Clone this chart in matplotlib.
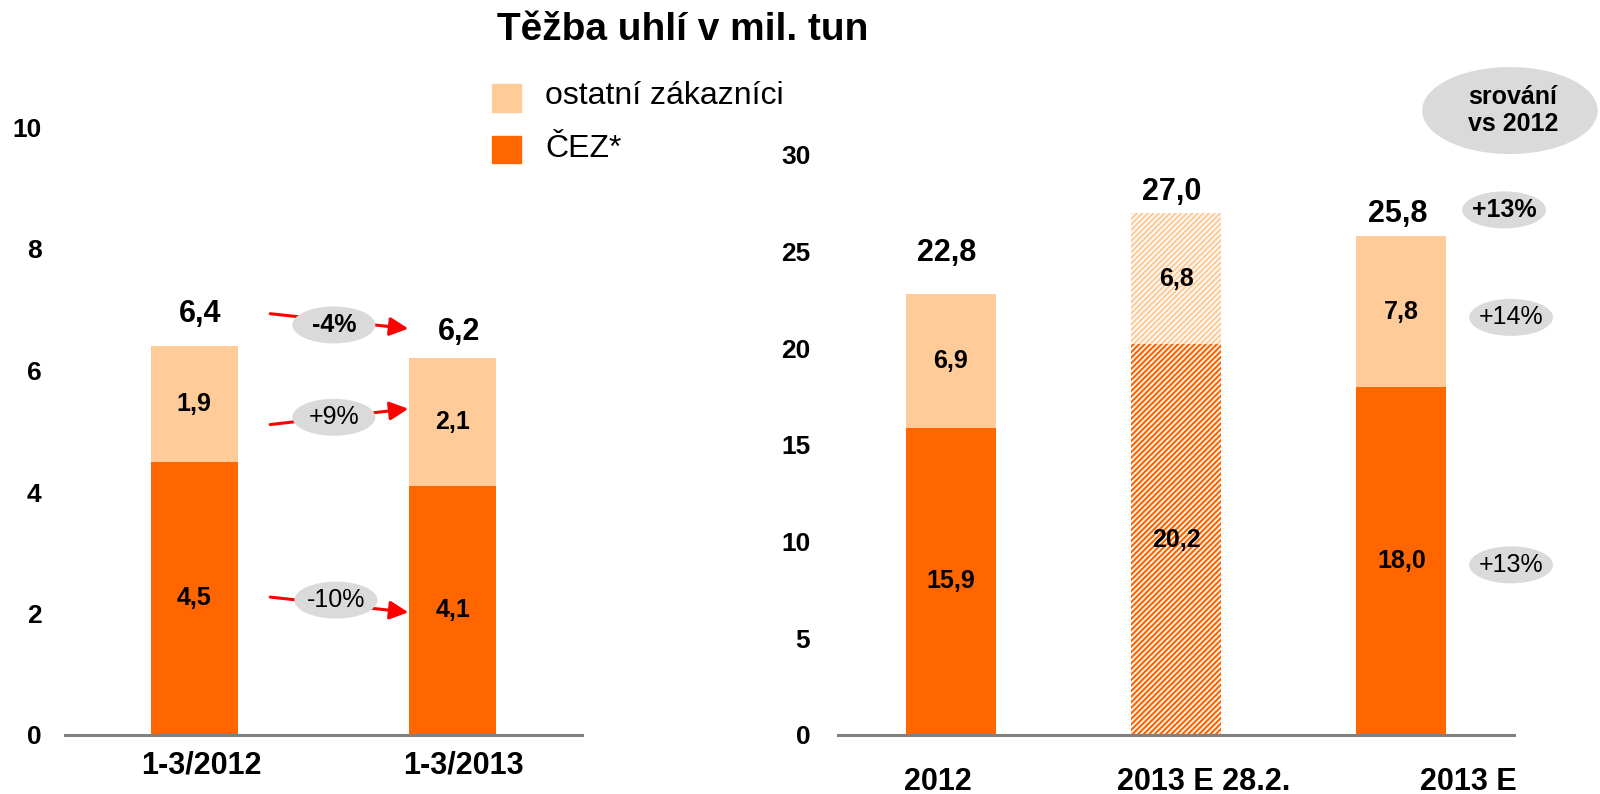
import numpy as np
import matplotlib.pyplot as plt
from matplotlib.patches import Ellipse, Rectangle

plt.rcParams['font.family'] = ['Liberation Sans', 'DejaVu Sans']
plt.rcParams['hatch.linewidth'] = 1.6

ORANGE = '#FF6600'
PEACH = '#FFCC99'
GREY = '#DADADA'

# first quarter comparison (left panel)
q_labels = ['1-3/2012', '1-3/2013']
q_cez = [4.5, 4.1]
q_other = [1.9, 2.1]
q_total = [6.4, 6.2]
q_change = ['-10%', '+9%', '-4%']   # cez, other, total

# full year (right panel)
y_labels = ['2012', '2013 E 28.2.', '2013 E']
y_cez = [15.9, 20.2, 18.0]
y_other = [6.9, 6.8, 7.8]
y_total = [22.8, 27.0, 25.8]
y_estimate = [False, True, False]
y_change = ['+13%', '+14%', '+13%']  # cez, other, total


def fmt(v):
    return f"{v:.1f}".replace('.', ',')


fig = plt.figure(figsize=(16, 7.94), dpi=100)
ax1 = fig.add_axes([65 / 1600, 59 / 794, 517 / 1600, 607.5 / 794])
ax2 = fig.add_axes([838 / 1600, 59 / 794, 676 / 1600, 580 / 794])

for ax in (ax1, ax2):
    for s in ['top', 'right', 'left']:
        ax.spines[s].set_visible(False)
    ax.spines['bottom'].set_color('#808080')
    ax.spines['bottom'].set_linewidth(2.2)
    ax.set_xticks([])

# ---- left panel ----
x1 = np.arange(len(q_labels))
ax1.bar(x1, q_cez, width=0.336, color=ORANGE, linewidth=0)
ax1.bar(x1, q_other, width=0.336, bottom=q_cez, color=PEACH, linewidth=0)
ax1.set_xlim(-0.5, 1.5)
ax1.set_ylim(0, 10)
ax1.set_yticks(range(0, 11, 2))
ax1.tick_params(axis='y', length=0, pad=17)
for lab in ax1.get_yticklabels():
    lab.set_fontweight('bold')
    lab.set_fontsize(19)

for i in x1:
    ax1.text(i, q_cez[i] / 2, fmt(q_cez[i]), ha='center', va='center', fontsize=18, fontweight='bold')
    ax1.text(i, q_cez[i] + q_other[i] / 2, fmt(q_other[i]), ha='center', va='center', fontsize=18, fontweight='bold')

tot_off1 = [32, 26]
for i in x1:
    ax1.annotate(fmt(q_total[i]), (i, q_total[i]), xytext=(6, tot_off1[i]), textcoords='offset pixels',
                 ha='center', va='center', fontsize=22, fontweight='bold')

shift1 = [0.027, 0.04]
for i in x1:
    ax1.annotate(q_labels[i], (i + shift1[i], 0), xytext=(0, -16), textcoords='offset pixels',
                 ha='center', va='top', fontsize=22, fontweight='bold')

# change bubbles with arrows
arrows1 = [((0.294, 2.27), (0.828, 2.02), (0.548, 2.22)),
           ((0.294, 5.11), (0.828, 5.37), (0.54, 5.23)),
           ((0.294, 6.935), (0.828, 6.69), (0.54, 6.75))]
for k, (start, end, centre) in enumerate(arrows1):
    ax1.annotate('', xy=end, xytext=start,
                 arrowprops=dict(arrowstyle='-|>', color='#FF0000', lw=2.2, mutation_scale=28,
                                 shrinkA=0, shrinkB=0), zorder=3)
    ax1.add_patch(Ellipse(centre, 83 / 258.5, 37 / 60.85, facecolor=GREY, edgecolor='none',
                          zorder=4, clip_on=False))
    ax1.text(centre[0], centre[1], q_change[k], ha='center', va='center', fontsize=18,
             fontweight='bold' if k == 2 else 'normal', zorder=5)

# ---- right panel ----
x2 = np.arange(len(y_labels))
for i in x2:
    if y_estimate[i]:
        ax2.bar(i, y_cez[i], width=0.4, facecolor='white', edgecolor=ORANGE, hatch='//////', linewidth=0)
        ax2.bar(i, y_other[i], width=0.4, bottom=y_cez[i], facecolor='white', edgecolor=PEACH,
                hatch='//////', linewidth=0)
    else:
        ax2.bar(i, y_cez[i], width=0.4, color=ORANGE, linewidth=0)
        ax2.bar(i, y_other[i], width=0.4, bottom=y_cez[i], color=PEACH, linewidth=0)
ax2.set_xlim(-0.5, 2.5)
ax2.set_ylim(0, 30)
ax2.set_yticks(range(0, 31, 5))
ax2.tick_params(axis='y', length=0, pad=20)
for lab in ax2.get_yticklabels():
    lab.set_fontweight('bold')
    lab.set_fontsize(19)

for i in x2:
    ax2.text(i, y_cez[i] / 2, fmt(y_cez[i]), ha='center', va='center', fontsize=18, fontweight='bold')
    ax2.text(i, y_cez[i] + y_other[i] / 2, fmt(y_other[i]), ha='center', va='center', fontsize=18,
             fontweight='bold')

tot_off2 = [41, 21, 22]
for i in x2:
    ax2.annotate(fmt(y_total[i]), (i, y_total[i]), xytext=(-4, tot_off2[i]), textcoords='offset pixels',
                 ha='center', va='center', fontsize=22, fontweight='bold')

shift2 = [-0.058, 0.124, 0.296]
for i in x2:
    ax2.annotate(y_labels[i], (i + shift2[i], 0), xytext=(0, -32), textcoords='offset pixels',
                 ha='center', va='top', fontsize=22, fontweight='bold')

# comparison bubbles
ax2.add_patch(Ellipse((2.482, 32.3), 176 / 226, 87 / 19.33, facecolor=GREY, edgecolor='none', clip_on=False))
ax2.text(2.495, 32.3, 'srování\nvs 2012', ha='center', va='center', fontsize=18, fontweight='bold',
         linespacing=1.15)
bubbles2 = [(2.487, 8.8), (2.487, 21.6), (2.456, 27.16)]
for k, centre in enumerate(bubbles2):
    ax2.add_patch(Ellipse(centre, 84 / 226, 37 / 19.33, facecolor=GREY, edgecolor='none', clip_on=False))
    ax2.text(centre[0], centre[1], y_change[k], ha='center', va='center', fontsize=18,
             fontweight='bold' if k == 2 else 'normal')

# title and legend
fig.text(683 / 1600, 1 - 30 / 794, 'Těžba uhlí v mil. tun', ha='center', va='center',
         fontsize=28, fontweight='bold')
fig.add_artist(Rectangle((492 / 1600, 1 - 112 / 794), 29 / 1600, 28 / 794, color=PEACH,
                         transform=fig.transFigure))
fig.add_artist(Rectangle((492 / 1600, 1 - 163 / 794), 29 / 1600, 27 / 794, color=ORANGE,
                         transform=fig.transFigure))
fig.text(545 / 1600, 1 - 104 / 794, 'ostatní zákazníci', ha='left', va='baseline', fontsize=23)
fig.text(545 / 1600, 1 - 157 / 794, 'ČEZ*', ha='left', va='baseline', fontsize=23)

fig.savefig('out.png', dpi=100)
